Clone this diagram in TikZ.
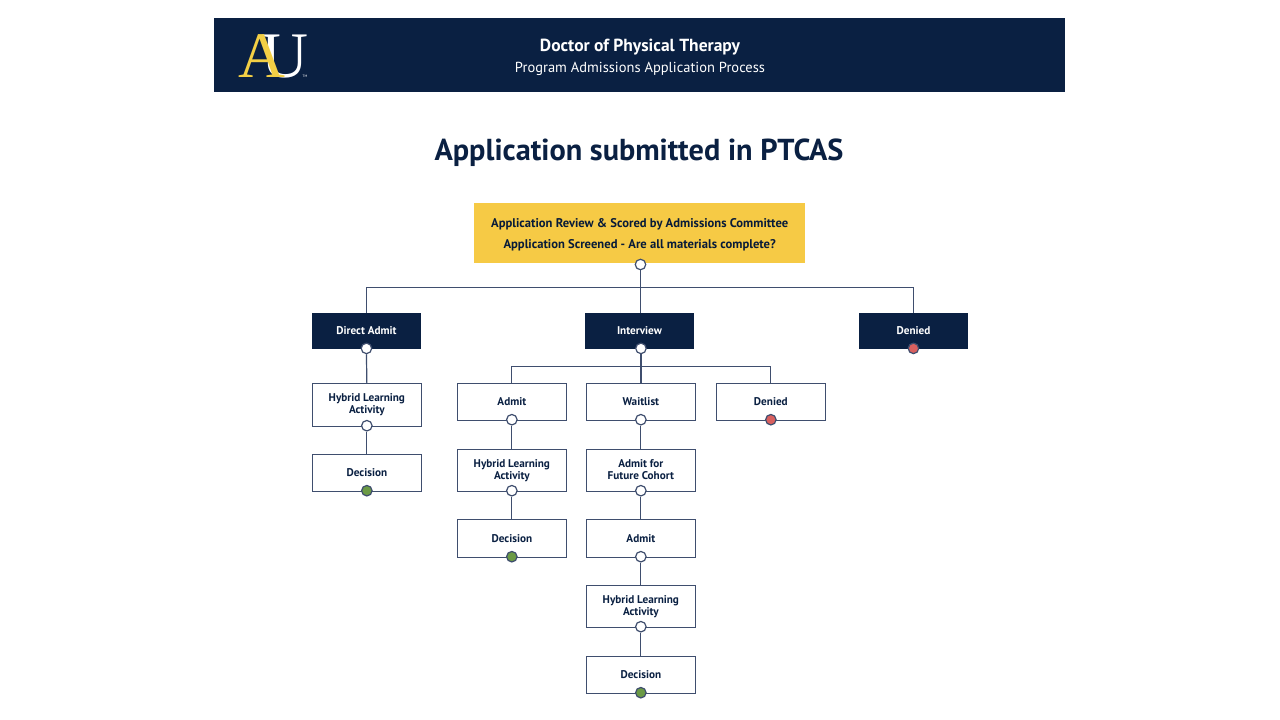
\documentclass[tikz,border=0pt]{standalone}
\usepackage{fontspec}
\setmainfont{PT Sans}
\newfontfamily\logofont{Liberation Serif}
\usetikzlibrary{calc}
\definecolor{navy}{HTML}{0A2042}
\definecolor{gold}{HTML}{F6CA45}
\definecolor{logogold}{HTML}{F3CF45}
\definecolor{linec}{HTML}{3F4E6E}
\definecolor{okgreen}{HTML}{6B9A45}
\definecolor{nored}{HTML}{D9605F}
\tikzset{
  x=1pt,y=-1pt,
  basebox/.style={anchor=north west,inner sep=0pt,align=center,font=\bfseries\fontsize{11.2}{12.2}\selectfont,text=navy},
  whitebox/.style={basebox,draw=linec,line width=1.2pt,fill=white},
  navybox/.style={basebox,fill=navy,text=white},
  dot/.style={circle,draw=linec,line width=1.2pt,minimum size=10.5pt,inner sep=0pt,fill=white,yshift=1pt},
  gdot/.style={dot,fill=okgreen},
  rdot/.style={dot,fill=nored},
  link/.style={draw=linec,line width=1.2pt},
}
\newcommand{\bx}[7]{\node[#1,minimum width=#4pt,minimum height=#5pt] (#2) at (#3) {#6};\node[#7] (#2d) at (#2.south) {};}
\begin{document}
\begin{tikzpicture}
\useasboundingbox (0,0) rectangle (1280,720);
\fill[white] (0,0) rectangle (1280,720);
% header
\node[anchor=north west,fill=navy,minimum width=851pt,minimum height=74pt,inner sep=0pt] (header) at (214,18) {};
\node[text=white,font=\bfseries\fontsize{17.5}{18}\selectfont] (h1) at (640,47) {Doctor of Physical Therapy};
\node[text=white,font=\fontsize{14.5}{16}\selectfont] (h2) at (640,69) {Program Admissions Application Process};
\node[text=white,font=\logofont\fontsize{65}{65}\selectfont,inner sep=0pt,anchor=base west] (logou) at (261,77.5) {U};
\node[text=logogold,font=\logofont\fontsize{65}{65}\selectfont,inner sep=0pt,anchor=base west] (logoa) at (238,77.5) {A};
\node[text=white,font=\fontsize{3.5}{4}\selectfont,inner sep=0pt] (logotm) at (305,76.5) {TM};
% title
\node[text=navy,font=\bfseries\fontsize{30.3}{34}\selectfont] (title) at (639,153) {Application submitted in PTCAS};
% top box
\node[anchor=north west,fill=gold,inner sep=0pt,minimum width=331pt,minimum height=60pt,align=center,text=navy!85!black,font=\bfseries\fontsize{12.6}{21.5}\selectfont] (top) at (474,203) {\rule{0pt}{12pt}Application Review \& Scored by Admissions Committee\\Application Screened - Are all materials complete?};
\node[dot,yshift=-1pt] (topd) at (640.5,264.5) {};
% level 1
\bx{navybox}{direct}{311.5,313}{109.5}{36}{\raisebox{1pt}{Direct Admit}}{dot}
\bx{navybox}{interview}{584.5,313}{109.5}{36}{\raisebox{1pt}{Interview}}{dot,xshift=1.5pt}
\bx{navybox}{denied}{858.5,313}{109.5}{36}{\raisebox{1pt}{Denied}}{rdot}
% left column
\bx{whitebox}{ahybrid}{311.5,383}{109.5}{42.5}{Hybrid Learning\\Activity}{dot}
\bx{whitebox}{adec}{311.5,454}{109.5}{36.5}{\raisebox{1pt}{Decision}}{gdot}
% middle-left column
\bx{whitebox}{admit}{456.5,383}{109.5}{36.5}{Admit}{dot}
\bx{whitebox}{bhybrid}{456.5,449}{109.5}{41.5}{Hybrid Learning\\Activity}{dot}
\bx{whitebox}{bdec}{456.5,519}{109.5}{37.5}{Decision}{gdot}
% center column
\bx{whitebox}{wait}{585.5,383}{109.5}{36.5}{Waitlist}{dot}
\bx{whitebox}{future}{585.5,449}{109.5}{41.5}{\raisebox{1pt}{Admit for}\\\raisebox{1pt}{Future Cohort}}{dot}
\bx{whitebox}{cadmit}{585.5,519}{109.5}{37.5}{Admit}{dot}
\bx{whitebox}{chybrid}{585.5,585}{109.5}{41.5}{Hybrid Learning\\Activity}{dot}
\bx{whitebox}{cdec}{585.5,656}{109.5}{36.5}{\raisebox{1pt}{Decision}}{gdot}
% right
\bx{whitebox}{deny}{715.5,383}{109.5}{36.5}{Denied}{rdot}
% connectors
\coordinate (bus) at (640.5,287.5);
\coordinate (bus2) at (640.5,366.5);
\draw[link] (topd.south) -- (topd.south |- interview.north);
\draw[link] (direct.north) |- (bus) -| (denied.north);
\draw[link] (directd.south) -- (ahybrid.north);
\draw[link] (ahybridd.south) -- (adec.north);
\draw[link] (interviewd.south) -- (interviewd.south |- wait.north);
\draw[link] (admit.north) |- (bus2) -| (deny.north);
\draw[link] (admitd.south) -- (bhybrid.north);
\draw[link] (bhybridd.south) -- (bdec.north);
\draw[link] (waitd.south) -- (future.north);
\draw[link] (futured.south) -- (cadmit.north);
\draw[link] (cadmitd.south) -- (chybrid.north);
\draw[link] (chybridd.south) -- (cdec.north);
\end{tikzpicture}
\end{document}
